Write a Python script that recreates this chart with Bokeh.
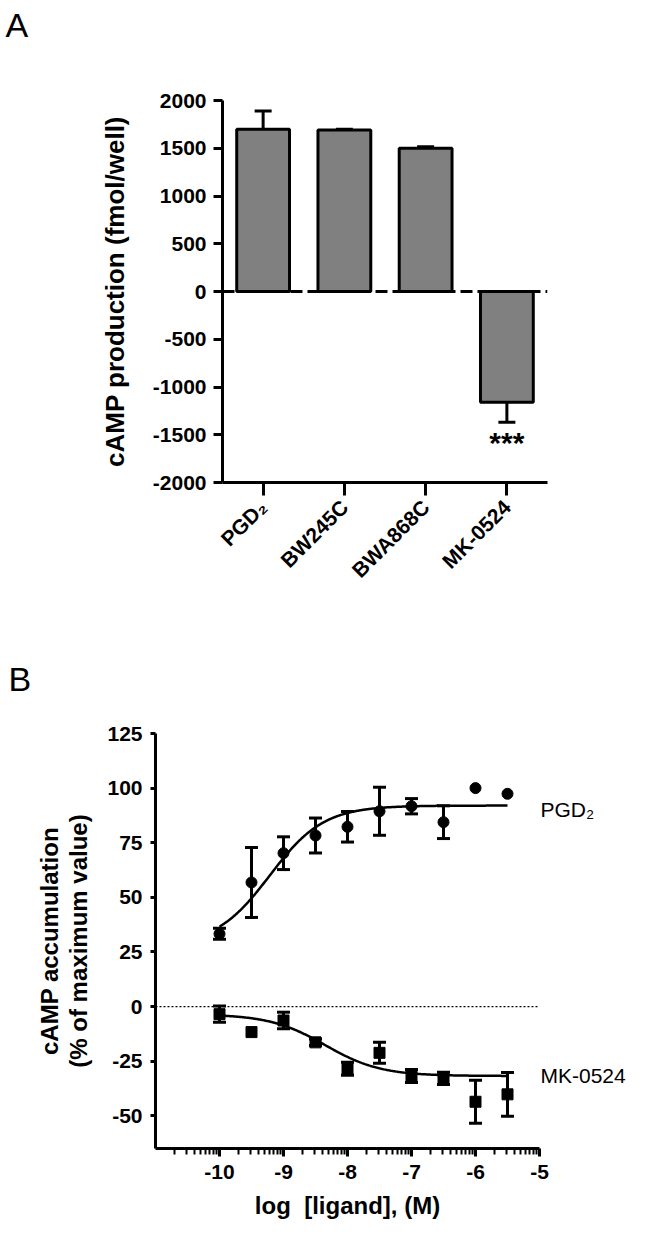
import numpy as np
from bokeh.plotting import figure
from bokeh.models import FixedTicker, Span, Label, LinearAxis
from bokeh.embed import file_html
from bokeh.resources import INLINE

# ---------------- Panel A data ----------------
compounds = ["PGD₂", "BW245C", "BWA868C", "MK-0524"]
camp_mean = [1700, 1690, 1500, -1160]
camp_sem = [190, 8, 15, 210]
sig_marks = ["", "", "", "***"]
a_yticks = [-2000, -1500, -1000, -500, 0, 500, 1000, 1500, 2000]

# ---------------- Panel B data ----------------
log_conc = [-10, -9.5, -9, -8.5, -8, -7.5, -7, -6.5, -6, -5.5]
pgd2_mean = [33.3, 56.8, 70.2, 78.3, 82.3, 89.4, 91.7, 84.4, 100.0, 97.4]
pgd2_sem = [2.5, 16, 7.5, 8, 7, 11, 3.5, 7.5, 0, 0]
mk_mean = [-3.5, -11.7, -6.4, -16.4, -28.5, -21.2, -31.8, -32.9, -43.6, -40.2]
mk_sem = [3.7, 0, 3.8, 1.5, 3, 4.8, 3, 2.8, 9.8, 10]
series_names = ["PGD₂", "MK-0524"]
b_xticks = [-10, -9, -8, -7, -6, -5]
b_yticks = [-50, -25, 0, 25, 50, 75, 100, 125]
# fitted sigmoid parameters: (low-conc. plateau, high-conc. plateau, logEC50, Hill slope)
pgd2_fit = (28.0, 92.0, -9.215, 1.03)
mk_fit = (-3.5, -31.8, -8.35, 1.0)

FONT = "Liberation Sans"
W = 648


def style_axis(ax, size="21px"):
    ax.axis_line_width = 3
    ax.axis_line_color = "black"
    ax.major_tick_line_width = 3
    ax.major_tick_line_color = "black"
    ax.major_tick_in = 0
    ax.minor_tick_in = 0
    ax.major_label_text_font = FONT
    ax.major_label_text_font_style = "bold"
    ax.major_label_text_font_size = size
    ax.major_label_text_color = "black"
    ax.axis_label_text_font = FONT
    ax.axis_label_text_font_style = "bold"
    ax.axis_label_text_color = "black"


def hyphen_labels(ticks):
    return {t: str(t) for t in ticks}


def letter_strip(letter, height, left, center):
    """A thin strip holding a panel letter (inside its own frame)."""
    s = figure(width=W, height=height, x_range=(0, W), y_range=(0, height),
               output_backend="svg", toolbar_location=None,
               x_axis_type=None, y_axis_type=None,
               min_border_left=0, min_border_right=0,
               min_border_top=0, min_border_bottom=0)
    s.outline_line_color = None
    s.grid.visible = False
    s.add_layout(Label(x=left, y=height - center, text=letter, text_font=FONT,
                       text_font_size="34px", text_baseline="middle",
                       text_align="left", text_color="black"))
    return s


# ================= Panel A =================
stripA = letter_strip("A", 48, 5, 24)

pA = figure(width=W, height=600, x_range=(-0.5, 3.5), y_range=(-2000, 2000),
            output_backend="svg", toolbar_location=None,
            min_border_left=222, min_border_right=101,
            min_border_top=52, min_border_bottom=166)
pA.outline_line_color = None
pA.grid.visible = False
pA.background_fill_color = "white"

idx = list(range(len(compounds)))
pA.vbar(x=idx, top=camp_mean, bottom=0, width=0.65,
        fill_color="#808080", line_color="black", line_width=3)

ends = [m + (s if m >= 0 else -s) for m, s in zip(camp_mean, camp_sem)]
pA.segment(x0=idx, y0=camp_mean, x1=idx, y1=ends, line_color="black", line_width=3)
pA.scatter(x=idx, y=ends, marker="dash", size=17, line_color="black", line_width=3)

pA.add_layout(Span(location=0, dimension="width", line_color="black",
                   line_width=3, line_dash="12 5"))

for i, (mark, e) in enumerate(zip(sig_marks, ends)):
    if mark:
        pA.add_layout(Label(x=i, y=e - 215, text=mark, text_align="center",
                            text_baseline="alphabetic", text_font=FONT,
                            text_font_style="bold", text_font_size="30px",
                            text_color="black"))

xa = pA.xaxis[0]
ya = pA.yaxis[0]
style_axis(xa)
style_axis(ya)
xa.ticker = FixedTicker(ticks=idx)
xa.major_label_overrides = {i: c for i, c in enumerate(compounds)}
xa.major_label_orientation = np.pi / 4
xa.major_tick_out = 13
xa.major_label_standoff = 8
xa.minor_tick_out = 0
ya.ticker = FixedTicker(ticks=a_yticks)
ya.major_label_overrides = hyphen_labels(a_yticks)
ya.major_tick_out = 9
ya.minor_tick_out = 0
ya.major_label_standoff = 7
ya.axis_label = "cAMP production (fmol/well)"
ya.axis_label_text_font_size = "26px"
ya.axis_label_standoff = 20

# ================= Panel B =================
stripB = letter_strip("B", 50, 8, 30)

pB = figure(width=W, height=531, x_range=(-11, -5), y_range=(-65, 125),
            output_backend="svg", toolbar_location=None,
            min_border_left=155, min_border_right=109,
            min_border_top=35, min_border_bottom=81)
pB.outline_line_color = None
pB.grid.visible = False
pB.background_fill_color = "white"

pB.add_layout(Span(location=0, dimension="width", line_color="black",
                   line_width=1.2, line_dash="2 2", level="underlay"))


def sigmoid(x, p):
    lo, hi, c, h = p
    return lo + (hi - lo) / (1 + 10 ** ((c - x) * h))


xfit = np.linspace(log_conc[0], log_conc[-1], 300)
pB.line(xfit, sigmoid(xfit, pgd2_fit), line_color="black", line_width=2.5)
pB.line(xfit, sigmoid(xfit, mk_fit), line_color="black", line_width=2.5)

for mean, sem in ((pgd2_mean, pgd2_sem), (mk_mean, mk_sem)):
    xs = np.array(log_conc)
    m = np.array(mean)
    s = np.array(sem)
    k = s > 0
    pB.segment(x0=xs[k], y0=(m - s)[k], x1=xs[k], y1=(m + s)[k],
               line_color="black", line_width=3)
    pB.scatter(x=np.concatenate([xs[k], xs[k]]),
               y=np.concatenate([(m - s)[k], (m + s)[k]]),
               marker="dash", size=13, line_color="black", line_width=3)

pB.scatter(log_conc, pgd2_mean, marker="circle", size=11, color="black")
pB.scatter(log_conc, mk_mean, marker="square", size=11, color="black")

xb = pB.xaxis[0]
yb = pB.yaxis[0]
style_axis(xb)
style_axis(yb)
minor = [n + np.log10(k) for n in range(-11, -5) for k in range(2, 10)]
xb.ticker = FixedTicker(ticks=b_xticks, minor_ticks=minor)
xb.major_label_overrides = hyphen_labels(b_xticks)
xb.major_tick_out = 8
xb.minor_tick_out = 6
xb.minor_tick_line_width = 2
xb.minor_tick_line_color = "black"
xb.major_label_standoff = 8
xb.axis_label = "log\u00a0 [ligand], (M)"
xb.axis_label_text_font_size = "24px"
xb.axis_label_standoff = 10
yb.ticker = FixedTicker(ticks=b_yticks)
yb.major_label_overrides = hyphen_labels(b_yticks)
yb.major_tick_out = 5
yb.minor_tick_out = 0
yb.major_label_standoff = 8
yb.axis_label = "(% of maximum value)"
yb.axis_label_text_font_size = "24px"
yb.axis_label_standoff = 12

# outer line of the two-line y-axis title
yb2 = LinearAxis(ticker=FixedTicker(ticks=[]), axis_label="cAMP accumulation")
style_axis(yb2)
yb2.axis_line_color = None
yb2.major_tick_out = 0
yb2.minor_tick_out = 0
yb2.major_label_standoff = 0
yb2.major_label_text_font_size = "0px"
yb2.axis_label_text_font_size = "24px"
yb2.axis_label_standoff = 0
pB.add_layout(yb2, "left")

# series names at the right of the curves
series_label_y = [90, -31.6]
rax = LinearAxis(ticker=FixedTicker(ticks=series_label_y),
                 major_label_overrides=dict(zip(series_label_y, series_names)))
rax.axis_line_color = None
rax.major_tick_out = 0
rax.major_tick_in = 0
rax.minor_tick_out = 0
rax.minor_tick_in = 0
rax.major_label_standoff = 1
rax.major_label_text_font = FONT
rax.major_label_text_font_size = "21px"
rax.major_label_text_font_style = "normal"
rax.major_label_text_color = "black"
pB.add_layout(rax, "right")

open("out.html", "w").write(file_html([stripA, pA, stripB, pB], INLINE))
